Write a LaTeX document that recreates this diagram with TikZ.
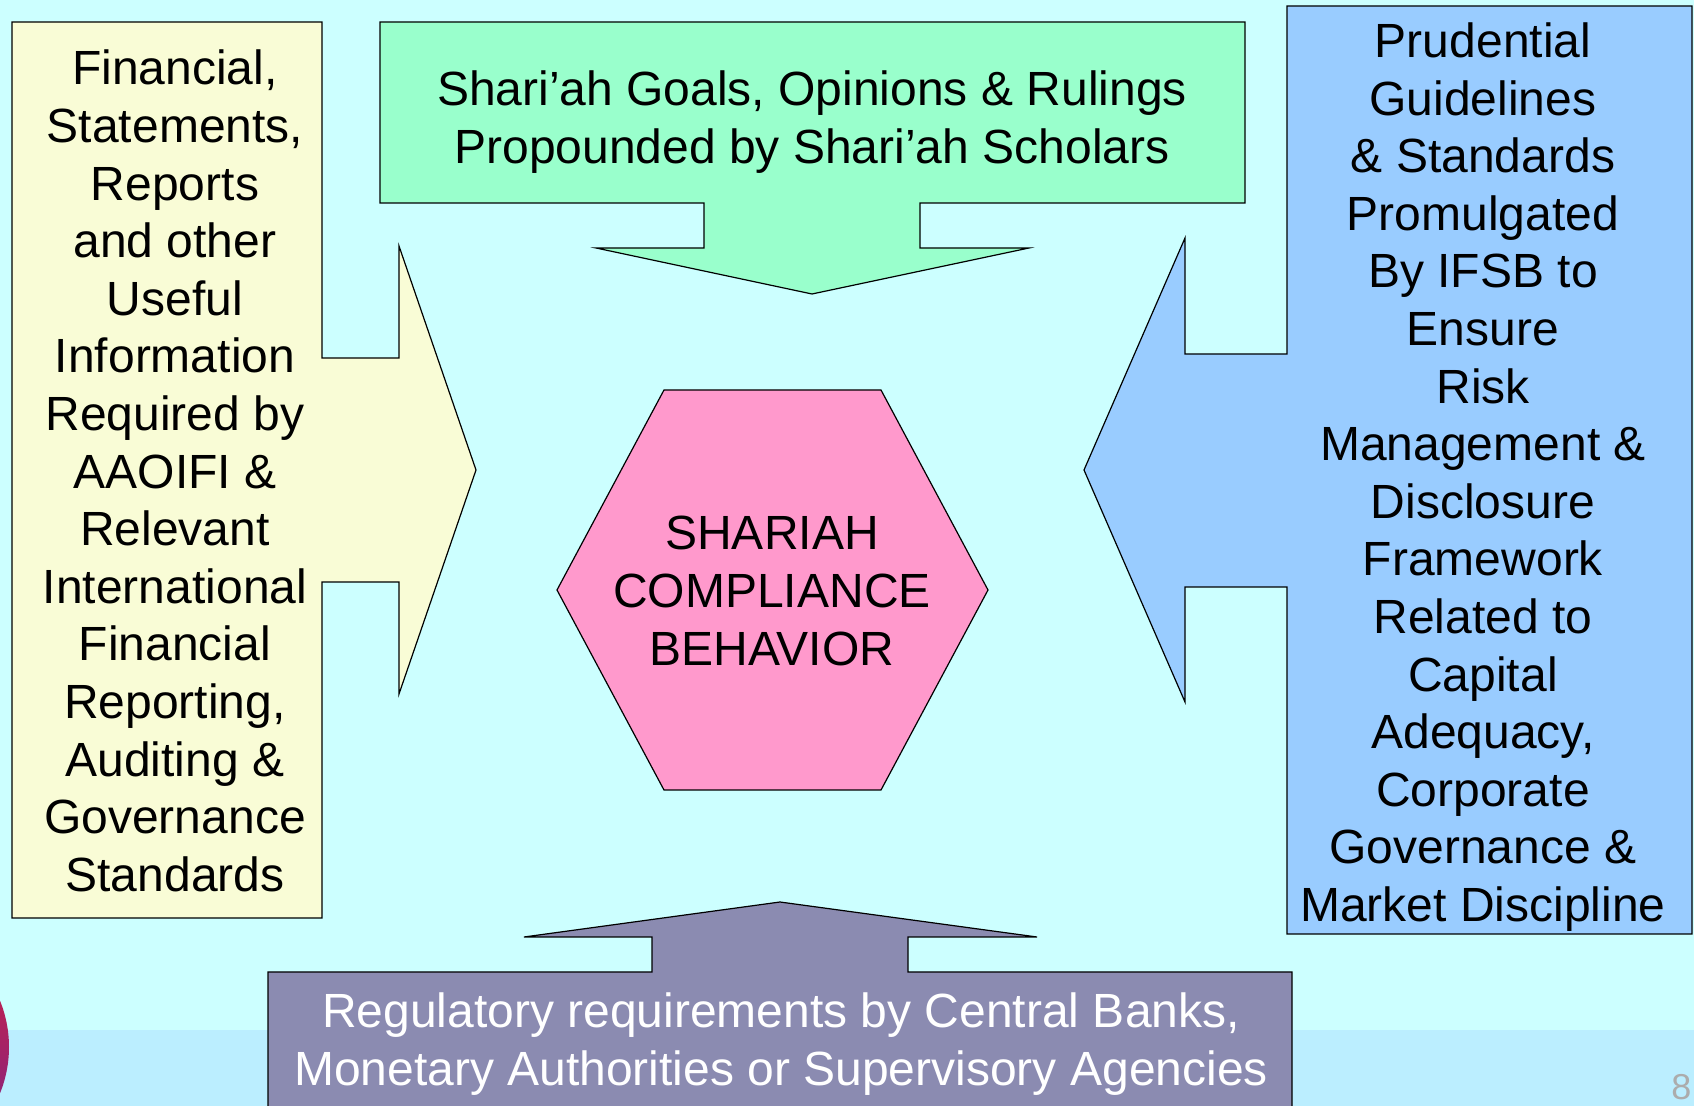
\documentclass[tikz,border=0pt]{standalone}
\usepackage{fontspec}
\setmainfont{Liberation Sans}
\usepackage{tikz}
\definecolor{bgcyan}{HTML}{CCFFFF}
\definecolor{bgband}{HTML}{BBEEFF}
\definecolor{paleyellow}{HTML}{F9FCD6}
\definecolor{mintgreen}{HTML}{99FFCC}
\definecolor{skyblue}{HTML}{99CCFF}
\definecolor{rosepink}{HTML}{FF99CC}
\definecolor{slatepurple}{HTML}{8B8BB1}
\tikzset{callout/.style={draw=black, line width=0.6pt, line join=miter}}
\tikzset{txt/.style={align=center, inner sep=0pt, font=\fontsize{24}{28.8}\selectfont}}

\begin{document}
\begin{tikzpicture}[x=0.5pt, y=-0.5pt]
		\useasboundingbox (0,0) rectangle (1694,1106);
		\clip (0,0) rectangle (1694,1106);
		% slide background
		\fill[bgcyan] (0,0) rectangle (1694,1106);
		\fill[bgband] (0,1030) rectangle (1694,1106);
		\shade[top color={rgb,255:red,212;green,32;blue,64}, bottom color={rgb,255:red,118;green,36;blue,140}] (-114,1047) circle (123);
		
		% left callout
		\filldraw[callout, fill=paleyellow] (12,22) -- (322,22) -- (322,358) -- (399,358) -- (399,246) -- (476,470)
			-- (399,694) -- (399,582) -- (322,582) -- (322,918) -- (12,918) -- cycle;
		% top callout
		\filldraw[callout, fill=mintgreen] (380,22) -- (1245,22) -- (1245,203) -- (920,203) -- (920,248) -- (1029,248)
			-- (812,294) -- (596,248) -- (704,248) -- (704,203) -- (380,203) -- cycle;
		% right callout
		\filldraw[callout, fill=skyblue] (1287,6) -- (1692,6) -- (1692,934) -- (1287,934) -- (1287,587) -- (1185,587)
			-- (1185,702) -- (1084,470) -- (1185,238) -- (1185,354) -- (1287,354) -- cycle;
		% bottom callout
		\filldraw[callout, fill=slatepurple] (268,972) -- (652,972) -- (652,937) -- (524,937) -- (780,902) -- (1037,937)
			-- (908,937) -- (908,972) -- (1292,972) -- (1292,1120) -- (268,1120) -- cycle;
		% centre hexagon
		\filldraw[callout, fill=rosepink] (557,590) -- (664,390) -- (881,390) -- (988,590) -- (881,790) -- (664,790) -- cycle;
		
		\node[txt] (aaoifi) at (175,471) {Financial,\\Statements,\\Reports\\and other\\Useful\\Information\\Required by\\AAOIFI \&\\Relevant\\International\\Financial\\Reporting,\\Auditing \&\\Governance\\Standards};
		\node[txt] (scholars) at (812,122) {Shari’ah Goals, Opinions \& Rulings\\Propounded by Shari’ah Scholars};
		\node[txt] (ifsb) at (1483,477) {Prudential\\Guidelines\\\& Standards\\Promulgated\\By IFSB to\\Ensure\\Risk\\Management \&\\Disclosure\\Framework\\Related to\\Capital\\Adequacy,\\Corporate\\Governance \&\\Market Discipline};
		\node[txt] (behavior) at (772,591) {SHARIAH\\COMPLIANCE\\BEHAVIOR};
		\node[txt, text=white] (regulators) at (781,1044) {Regulatory requirements by Central Banks,\\Monetary Authorities or Supervisory Agencies};
		
		\node[anchor=base west, inner sep=0pt, font=\fontsize{18}{20}\selectfont, text=gray!65] (pagenum) at (1671,1100) {8};
	\end{tikzpicture}
\end{document}
